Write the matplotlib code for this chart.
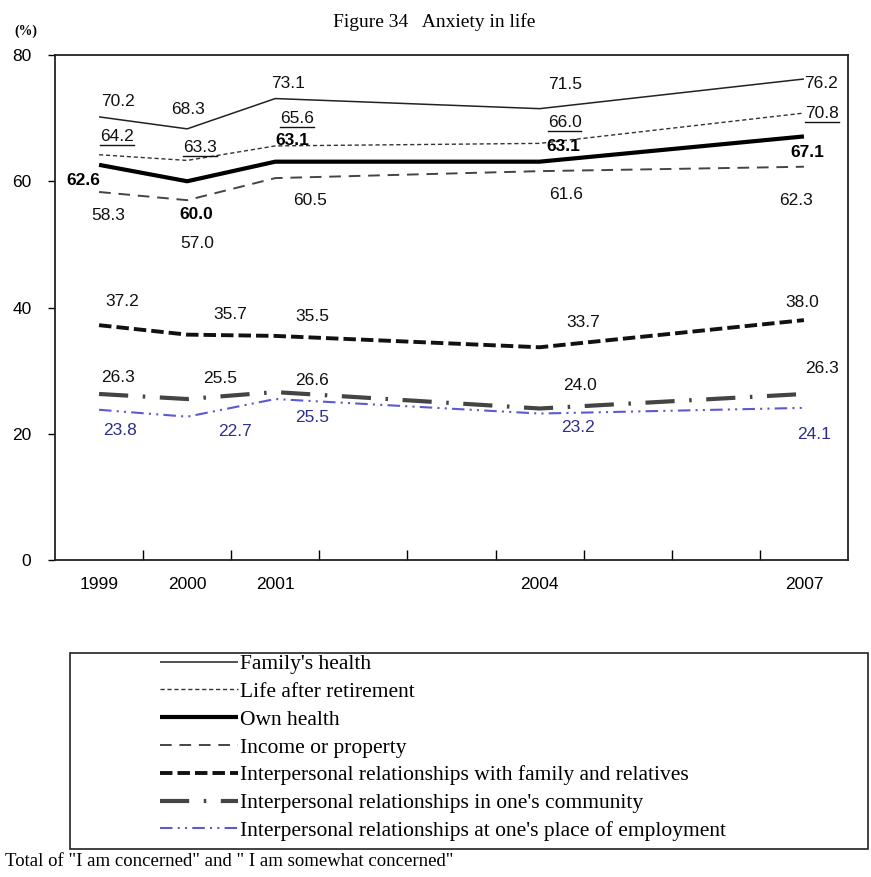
import matplotlib
matplotlib.use("Agg")
import matplotlib.pyplot as plt
from matplotlib.patches import Rectangle
from matplotlib.lines import Line2D

# --- Data ---
all_years = list(range(1999, 2008))
survey_years = [1999, 2000, 2001, 2004, 2007]

family_health = [70.2, 68.3, 73.1, 71.5, 76.2]
after_retirement = [64.2, 63.3, 65.6, 66.0, 70.8]
own_health = [62.6, 60.0, 63.1, 63.1, 67.1]
income_property = [58.3, 57.0, 60.5, 61.6, 62.3]
rel_family = [37.2, 35.7, 35.5, 33.7, 38.0]
rel_community = [26.3, 25.5, 26.6, 24.0, 26.3]
rel_employment = [23.8, 22.7, 25.5, 23.2, 24.1]

series_names = [
    "Family's health",
    "Life after retirement",
    "Own health",
    "Income or property",
    "Interpersonal relationships with family and relatives",
    "Interpersonal relationships in one's community",
    "Interpersonal relationships at one's place of employment",
]

# --- Styles (line width, dashes, colour, label style) ---
styles = [
    dict(lw=1.1, dashes=None, color="#222222"),
    dict(lw=1.0, dashes=(3, 2), color="#333333"),
    dict(lw=3.0, dashes=None, color="#000000"),
    dict(lw=1.4, dashes=(6, 4), color="#444444"),
    dict(lw=2.8, dashes=(3.2, 1.3), color="#111111"),
    dict(lw=3.0, dashes=(7, 3.5, 0.6, 3.5), color="#444444"),
    dict(lw=1.5, dashes=(6, 2.5, 1, 2.5, 1, 2.5), color="#5a5ad2"),
]
label_kw = [
    dict(color="#111111"),
    dict(color="#111111", underline=True),
    dict(color="#000000", fontweight="bold"),
    dict(color="#111111"),
    dict(color="#111111"),
    dict(color="#111111"),
    dict(color="#2e2e90"),
]
# label offsets from each point, in pixels (dx, dy up)
offsets = [
    [(19, 15), (1, 19), (13, 15), (26, 24), (17, -5)],
    [(18, 18), (13, 13), (22, 27), (25, 21), (18, 0)],
    [(-16, -16), (9, -33), (17, 21), (24, 15), (3, -16)],
    [(9, -24), (10, -43), (35, -22), (26, -23), (-8, -34)],
    [(23, 24), (43, 20), (37, 19), (44, 25), (-2, 18)],
    [(19, 16), (33, 21), (37, 12), (40, 23), (18, 25)],
    [(21, -21), (48, -15), (37, -18), (38, -14), (10, -27)],
]

all_series = [family_health, after_retirement, own_health, income_property,
              rel_family, rel_community, rel_employment]

fig = plt.figure(figsize=(8.71, 8.77), dpi=100)
ax = fig.add_axes([55 / 871, 1 - 560 / 877, (848 - 55) / 871, (560 - 55) / 877])

handles = []
for vals, name, st in zip(all_series, series_names, styles):
    line, = ax.plot(survey_years, vals, color=st["color"], lw=st["lw"],
                    solid_capstyle="butt", label=name)
    if st["dashes"] is not None:
        line.set_dashes(st["dashes"])
    handles.append(line)
handles[2].set_zorder(5)

underlined = []
for vals, kw, offs in zip(all_series, label_kw, offsets):
    for x, v, (dx, dy) in zip(survey_years, vals, offs):
        t = ax.annotate(f"{v:.1f}", (x, v), xytext=(dx, dy),
                        textcoords="offset pixels", ha="center", va="center",
                        fontsize=12.5, family="Liberation Sans",
                        color=kw["color"],
                        fontweight=kw.get("fontweight", "normal"), zorder=6)
        if kw.get("underline"):
            underlined.append(t)

# axes
ax.set_ylim(0, 80)
ax.set_xlim(all_years[0] - 0.5, all_years[-1] + 0.5)
ax.set_yticks([0, 20, 40, 60, 80])
ax.tick_params(axis="y", direction="out", length=5, width=1, pad=12,
               labelsize=12.5)
for lab in ax.get_yticklabels():
    lab.set_family("Liberation Sans")

ax.set_xticks([y + 0.5 for y in all_years[:-1]])
ax.set_xticklabels([])
ax.tick_params(axis="x", which="major", direction="in", length=7, width=1)
ax.set_xticks(all_years, minor=True)
ax.set_xticklabels([str(y) if y in survey_years else "" for y in all_years],
                   minor=True, family="Liberation Sans", fontsize=12.5)
ax.tick_params(axis="x", which="minor", length=0, pad=12)
for sp in ax.spines.values():
    sp.set_linewidth(1.3)
    sp.set_color("#222222")

fig.text(26 / 871, 1 - 31 / 877, "(%)", fontsize=10, family="Liberation Serif",
         fontweight="bold", ha="center", va="center")
fig.text(434 / 871, 1 - 22 / 877, "Figure 34   Anxiety in life", fontsize=14,
         family="Liberation Serif", ha="center", va="center")

# legend with a separate frame
fig.patches.append(Rectangle((70 / 871, 1 - 849 / 877), (868 - 70) / 871,
                             (849 - 653) / 877, transform=fig.transFigure,
                             fill=False, edgecolor="#222222", lw=1.2))
fig.legend(handles=handles, loc="upper left",
           bbox_to_anchor=(160 / 871, 1 - 654 / 877), frameon=False,
           prop={"family": "Liberation Serif", "size": 15.5},
           handlelength=3.6, handletextpad=0.12, labelspacing=0.36,
           borderpad=0, borderaxespad=0)

fig.text(5 / 871, 1 - 862 / 877,
         'Total of "I am concerned" and " I am somewhat concerned"',
         fontsize=13.5, family="Liberation Serif", ha="left", va="center")

# underline the "life after retirement" labels
fig.canvas.draw()
inv = fig.transFigure.inverted()
for t in underlined:
    bb = t.get_window_extent()
    (x0, y0), (x1, _) = inv.transform([(bb.x0, bb.y0 - 1), (bb.x1, bb.y0 - 1)])
    fig.lines.append(Line2D([x0, x1], [y0, y0], transform=fig.transFigure,
                            color="#111111", lw=1.0))

fig.savefig("out.png", dpi=100)
